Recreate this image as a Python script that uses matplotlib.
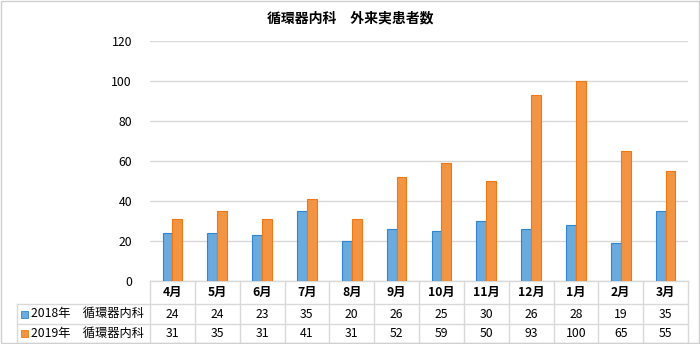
import matplotlib.pyplot as plt
from matplotlib.patches import Rectangle
import matplotlib.transforms as mtransforms

plt.rcParams['font.family'] = ['Noto Sans CJK JP', 'DejaVu Sans']

months = ['4月', '5月', '6月', '7月', '8月', '9月', '10月', '11月', '12月', '1月', '2月', '3月']
series_names = ['2018年　循環器内科', '2019年　循環器内科']
v2018 = [24, 24, 23, 35, 20, 26, 25, 30, 26, 28, 19, 35]
v2019 = [31, 35, 31, 41, 31, 52, 59, 50, 93, 100, 65, 55]
title = '循環器内科　外来実患者数'

blue_face, blue_edge = '#6aaadd', '#2f86d0'
orange_face, orange_edge = '#f39442', '#f07814'
grid_c = '#d9d9d9'
fs = 8.8

fig = plt.figure(figsize=(7, 3.44), dpi=100)
ax = fig.add_axes([150 / 700, 1 - 281 / 344, 538 / 700, 240 / 344])

x = list(range(len(months)))
w = 0.22
ax.bar([i - w / 2 for i in x], v2018, w, color=blue_face, edgecolor=blue_edge, linewidth=0.8, zorder=3)
ax.bar([i + w / 2 for i in x], v2019, w, color=orange_face, edgecolor=orange_edge, linewidth=0.8, zorder=3)

ax.set_xlim(-0.5, len(months) - 0.5)
ax.set_ylim(0, 120)
ax.set_yticks(range(0, 121, 20))
ax.tick_params(axis='y', length=0, pad=13, labelsize=fs)
ax.set_xticks([])
ax.yaxis.grid(True, color=grid_c, linewidth=1)
ax.set_axisbelow(True)
for s in ax.spines.values():
    s.set_visible(False)

fig.text(0.5, 1 - 18 / 344, title, ha='center', va='center', fontsize=10, fontweight='bold')

# data table under the axis
tr = mtransforms.blended_transform_factory(ax.transData, ax.transAxes)
rows_y = [0, -23 / 240, -43 / 240, -62 / 240]
left = -0.5 - 133 / 538 * 12
right = len(months) - 0.5
kw = dict(transform=tr, color=grid_c, linewidth=1, clip_on=False)
ax.plot([-0.5, right], [0, 0], **kw)
for y in rows_y[1:]:
    ax.plot([left, right], [y, y], **kw)
for i in range(len(months) + 1):
    ax.plot([i - 0.5, i - 0.5], [rows_y[0], rows_y[3]], **kw)
ax.plot([left, left], [rows_y[1], rows_y[3]], **kw)

for i, m in enumerate(months):
    ax.text(i, (rows_y[0] + rows_y[1]) / 2, m, transform=tr, ha='center', va='center', fontsize=fs, fontweight='bold')
    ax.text(i, (rows_y[1] + rows_y[2]) / 2, str(v2018[i]), transform=tr, ha='center', va='center', fontsize=fs)
    ax.text(i, (rows_y[2] + rows_y[3]) / 2, str(v2019[i]), transform=tr, ha='center', va='center', fontsize=fs)

for k, (name, fc, ec) in enumerate([(series_names[0], blue_face, blue_edge), (series_names[1], orange_face, orange_edge)]):
    yc = (rows_y[k + 1] + rows_y[k + 2]) / 2
    fig_y = ax.transAxes.transform((0, yc))[1] / fig.dpi / 3.44
    fig.patches.append(Rectangle((21 / 700, fig_y - 3.5 / 344), 7 / 700, 7 / 344, transform=fig.transFigure,
                                 facecolor=fc, edgecolor=ec, linewidth=0.6))
    fig.text(31 / 700, fig_y, name, ha='left', va='center', fontsize=fs)

fig.patches.append(Rectangle((0.002, 0.003), 0.996, 0.994, transform=fig.transFigure,
                             fill=False, edgecolor='#d0d0d0', linewidth=1))

fig.savefig('out.png', dpi=100)
